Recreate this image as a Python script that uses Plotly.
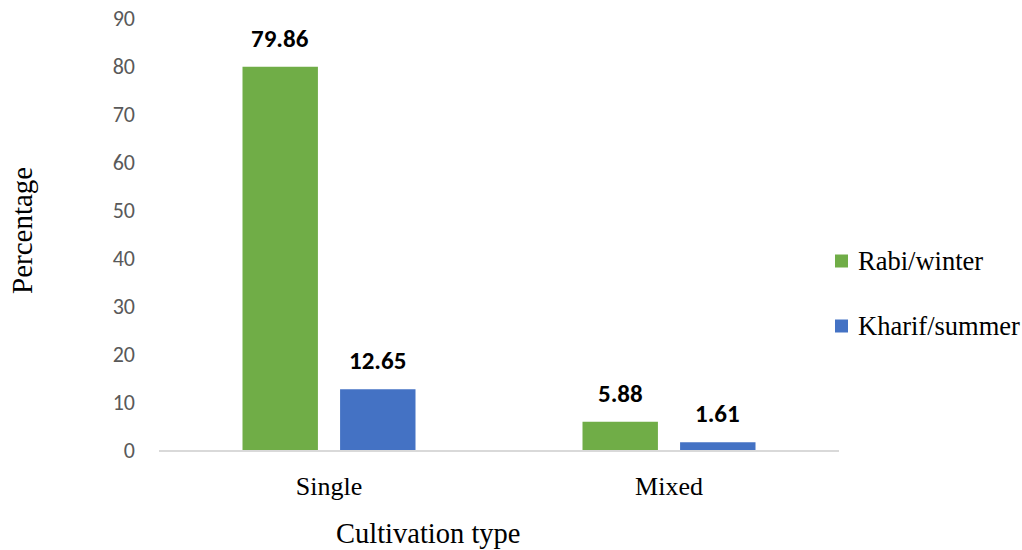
import plotly.graph_objects as go

categories = ["Single", "Mixed"]
rabi_winter = [79.86, 5.88]
kharif_summer = [12.65, 1.61]
series_names = ["Rabi/winter", "Kharif/summer"]
series_colors = ["#70AD47", "#4472C4"]
y_ticks = [0, 10, 20, 30, 40, 50, 60, 70, 80, 90]

W, H = 1022, 550
L, R, T, B = 159, 183, 18, 100
PW, PH = W - L - R, H - T - B

serif = "Liberation Serif, Times New Roman, serif"
sans = "Carlito, Lato, Open Sans, sans-serif"

BARGAP = 0.426
GROUPGAP = 0.227
# horizontal offset of each bar's centre from its category centre, in px
slot_px = (1 - BARGAP) / 2 * (PW / 2)
offsets = [-slot_px / 2, slot_px / 2]


def px_x(px):
    return (px - L) / PW


def px_y(py):
    return (H - B - py) / PH


fig = go.Figure()
annotations = []
shapes = []
for name, vals, color, dx in zip(series_names, [rabi_winter, kharif_summer],
                                 series_colors, offsets):
    fig.add_trace(go.Bar(
        x=categories, y=vals, name=name, marker_color=color,
        marker_line_width=0, showlegend=False,
    ))
    for cat, v in zip(categories, vals):
        annotations.append(dict(
            x=cat, y=v, xref="x", yref="y", text=f"<b>{v:.2f}</b>",
            showarrow=False, xanchor="center", yanchor="bottom",
            xshift=dx, yshift=11,
            font=dict(family=sans, size=25, color="#000000"),
        ))

# legend drawn as swatches + labels to the right of the plot
legend_rows = [261, 326]
for name, color, cy in zip(series_names, series_colors, legend_rows):
    shapes.append(dict(
        type="rect", xref="paper", yref="paper",
        x0=px_x(835), x1=px_x(848), y0=px_y(cy + 6.5), y1=px_y(cy - 6.5),
        fillcolor=color, line=dict(width=0),
    ))
    annotations.append(dict(
        text=name, xref="paper", yref="paper", x=px_x(856), y=px_y(cy),
        xanchor="left", yanchor="middle", showarrow=False,
        font=dict(family=serif, size=26.5, color="#000000"),
    ))

annotations += [
    dict(text="Percentage", xref="paper", yref="paper",
         x=px_x(22), y=px_y(231), xanchor="center", yanchor="middle",
         textangle=-90, showarrow=False,
         font=dict(family=serif, size=29, color="#000000")),
    dict(text="Cultivation type", xref="paper", yref="paper",
         x=px_x(428), y=px_y(533),
         xanchor="center", yanchor="middle", showarrow=False,
         font=dict(family=serif, size=28.5, color="#000000")),
]

fig.update_layout(
    width=W, height=H,
    margin=dict(l=L, r=R, t=T, b=B, autoexpand=False),
    paper_bgcolor="white", plot_bgcolor="white",
    barmode="group", bargap=BARGAP, bargroupgap=GROUPGAP,
    showlegend=False,
    xaxis=dict(
        range=[-0.5, 1.5], showgrid=False, showline=True,
        linecolor="#D9D9D9", linewidth=1.5, ticks="",
        tickfont=dict(family=serif, size=26, color="#000000"),
        ticklabelstandoff=12,
    ),
    yaxis=dict(
        range=[0, 90], tickvals=y_ticks, showgrid=False, showline=False,
        zeroline=False, ticks="",
        tickfont=dict(family=sans, size=22, color="#595959"),
        ticklabelstandoff=23,
    ),
    annotations=annotations,
    shapes=shapes,
)

fig.write_html("out.html")
